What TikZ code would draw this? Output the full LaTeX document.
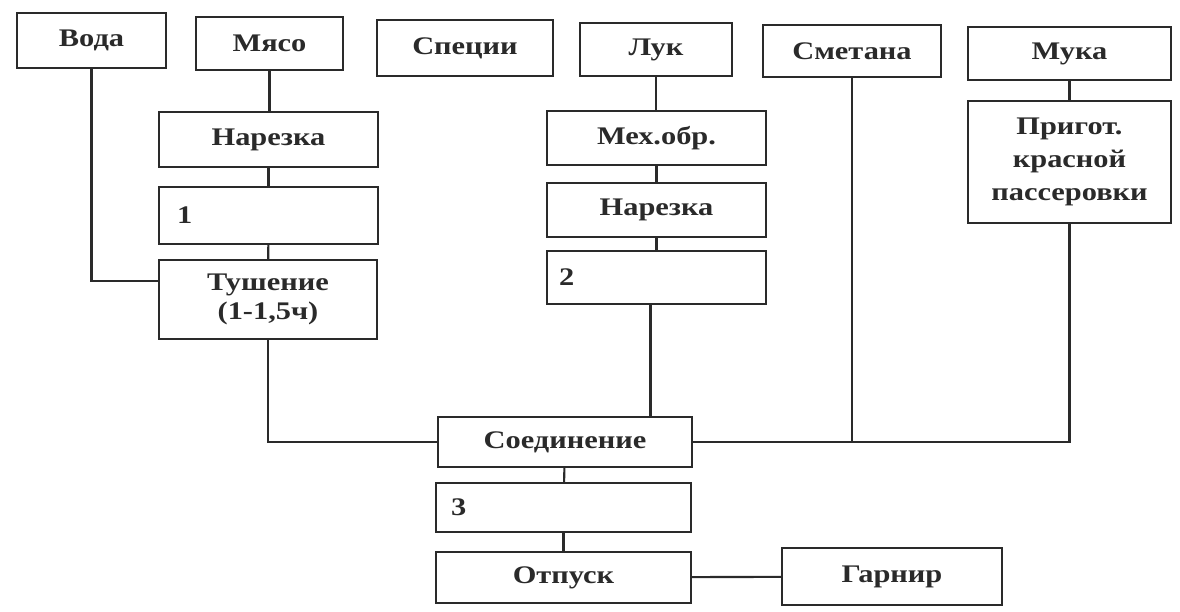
\documentclass[tikz,border=0pt]{standalone}
\usepackage{fontspec}
\setmainfont{Liberation Serif}[FakeStretch=1.2]
\usetikzlibrary{calc}
\definecolor{ink}{HTML}{2A2A2A}
\tikzset{
  bx/.style 2 args={draw=ink, line width=1.6pt, fill=white, inner sep=0pt,
    minimum width=#1*0.75pt, minimum height=#2*0.75pt,
    font=\fontsize{19}{21.5}\selectfont\bfseries, text=ink, align=center},
  num/.style={anchor=west, inner sep=0pt, font=\fontsize{19}{21.5}\selectfont\bfseries, text=ink},
  ln/.style={draw=ink, line width=1.6pt}
}
\begin{document}
\begin{tikzpicture}[x=0.75pt,y=-0.75pt]
\useasboundingbox (0,0) rectangle (1180,611);
% top row
\node[bx={149}{55}] (voda)  at (91.5,40.5) {Вода};
\node[bx={147}{53}] (myaso) at (269.5,43.5) {Мясо};
\node[bx={176}{56}] (spec)  at (465,48) {Специи};
\node[bx={152}{53}] (luk)   at (656,49.5) {Лук};
\node[bx={178}{52}] (smet)  at (852,51) {Сметана};
\node[bx={203}{53}] (muka)  at (1069.5,53.5) {Мука};
% meat column
\node[bx={219}{55}] (nar1)  at (268.5,139.5) {Нарезка};
\node[bx={219}{57}] (b1)    at (268.5,215.5) {};
\node[num] (n1) at ($(b1.west)+(19,0)$) {1};
\node[bx={218}{79}] (tush)  at (268,299.5) {Тушение\\(1-1,5ч)};
% onion column
\node[bx={219}{54}] (meh)   at (656.5,138) {Мех.обр.};
\node[bx={219}{54}] (nar2)  at (656.5,210) {Нарезка};
\node[bx={219}{53}] (b2)    at (656.5,277.5) {};
\node[num] (n2) at ($(b2.west)+(13,0)$) {2};
% flour
\node[bx={203}{122}] (prig) at (1069.5,162) {Пригот.\\[3pt]красной\\[3pt]пассеровки};
% bottom
\node[bx={254}{50}] (soed)  at (565,442) {Соединение};
\node[bx={255}{49}] (b3)    at (563.5,507.5) {};
\node[num] (n3) at ($(b3.west)+(16,0)$) {3};
\node[bx={255}{51}] (otp)   at (563.5,577.5) {Отпуск};
\node[bx={220}{57}] (garn)  at (892,576.5) {Гарнир};
% connectors
\coordinate (vodaIn) at ($(tush.west)+(0,-18.5)$);
\draw[ln] (voda.south) |- (vodaIn);
\draw[ln] (myaso.south) -- (myaso.south |- nar1.north);
\draw[ln] (nar1) -- (b1);
\draw[ln] (b1) -- (tush);
\draw[ln] (tush.south) |- (soed.west);
\draw[ln] (luk.south) -- (luk.south |- meh.north);
\draw[ln] (meh) -- (nar2);
\draw[ln] (nar2) -- (b2);
\coordinate (b2out) at ($(b2.south)+(-6,0)$);
\draw[ln] (b2out) -- (b2out |- soed.north);
\draw[ln] (muka) -- (prig);
\draw[ln] (prig.south) |- (soed.east);
\draw[ln] (smet.south) -- (smet.south |- soed.east);
\draw[ln] (soed) -- (b3);
\draw[ln] (b3) -- (otp);
\draw[ln] (otp) -- (garn);
\end{tikzpicture}
\end{document}
